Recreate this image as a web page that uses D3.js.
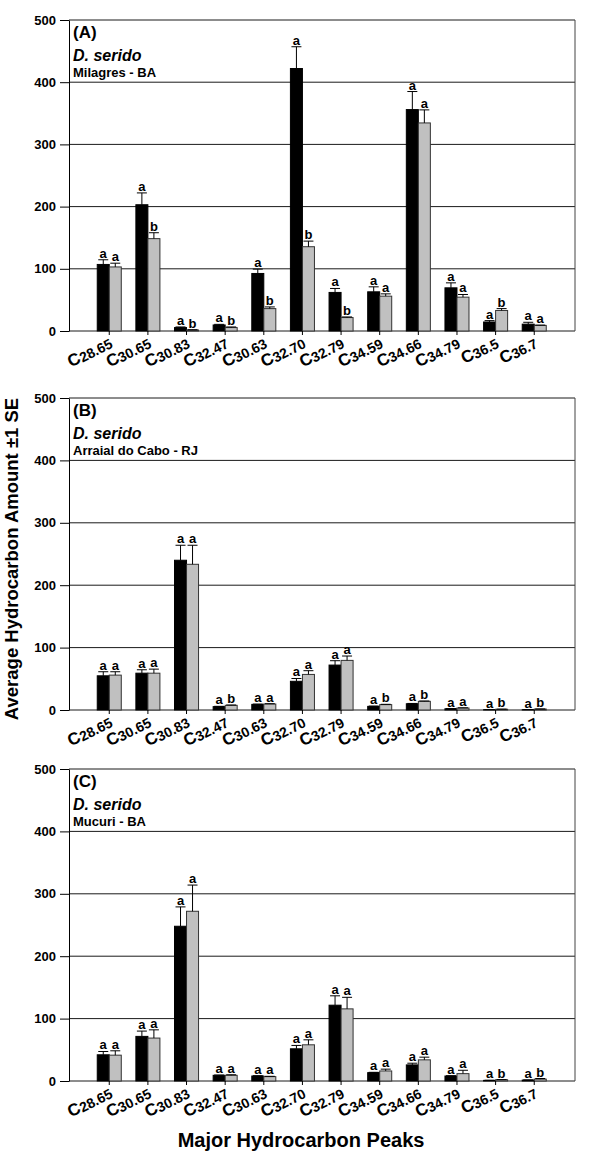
<!DOCTYPE html>
<html>
<head>
<meta charset="utf-8">
<script src="https://cdn.jsdelivr.net/npm/d3@7"></script>
<style>
  body { margin: 0; background: #fff; }
  svg { font-family: "Liberation Sans", Arial, sans-serif; font-weight: bold; }
</style>
</head>
<body>
<svg id="chart" width="600" height="1153"></svg>
<script>
// peaks on the x axis
const peaks = ["28.65", "30.65", "30.83", "32.47", "30.63", "32.70", "32.79", "34.59", "34.66", "34.79", "36.5", "36.7"];
const yTicks = [0, 100, 200, 300, 400, 500];

// (A) Milagres - BA
const aBlack = [107, 203, 5.5, 9.7, 92.5, 422, 62, 63, 356, 69.4, 14.5, 11];
const aBlackSe = [7.5, 19, 1, 1, 7, 35, 6.4, 8, 29, 8, 2.2, 3];
const aGray = [103, 148.5, 1.6, 5.5, 36, 135.5, 21.6, 56, 334.5, 54.4, 33, 9];
const aGraySe = [6, 9.5, 0.5, 1, 2.7, 9, 1, 3.7, 21, 4.3, 3, 0.5];
const aLetters = ["aa", "ab", "ab", "ab", "ab", "ab", "ab", "aa", "aa", "aa", "ab", "aa"];

// (B) Arraial do Cabo - RJ
const bBlack = [54.8, 59, 240, 5.4, 9, 46, 72, 5.8, 10, 2, 0.5, 0.5];
const bBlackSe = [6.5, 5.5, 24, 0.5, 0.5, 4.5, 7, 0.5, 0.5, 0.3, 0.2, 0.2];
const bGray = [55.9, 59, 233.5, 7.5, 9.6, 57, 79.5, 8.6, 13.9, 3.2, 1.2, 1.5];
const bGraySe = [5.4, 6.5, 30.5, 0.5, 0.5, 6, 7, 0.5, 0.5, 0.3, 0.2, 0.2];
const bLetters = ["aa", "aa", "aa", "ab", "aa", "aa", "aa", "ab", "ab", "aa", "ab", "ab"];

// (C) Mucuri - BA
const cBlack = [42, 71.5, 248, 9.1, 8, 51.6, 121.5, 13.4, 25.8, 8, 1, 1.5];
const cBlackSe = [5.3, 8.5, 31, 0.5, 0.5, 5.4, 15, 0.5, 2.7, 0.5, 0.2, 0.3];
const cGray = [41.4, 68.8, 272, 9.1, 7, 58, 115.6, 16.1, 33.9, 11.8, 2, 3];
const cGraySe = [7, 13.2, 42, 0.9, 0.5, 8, 18.5, 2.9, 4.3, 5.4, 0.3, 1];
const cLetters = ["aa", "aa", "aa", "aa", "aa", "aa", "aa", "aa", "aa", "aa", "ab", "ab"];

const panels = [
    { tag: "(A)", site: "Milagres - BA", top: 20, bottom: 331, black: aBlack, blackSe: aBlackSe, gray: aGray, graySe: aGraySe, letters: aLetters },
    { tag: "(B)", site: "Arraial do Cabo - RJ", top: 398, bottom: 710, black: bBlack, blackSe: bBlackSe, gray: bGray, graySe: bGraySe, letters: bLetters },
    { tag: "(C)", site: "Mucuri - BA", top: 769, bottom: 1081, black: cBlack, blackSe: cBlackSe, gray: cGray, graySe: cGraySe, letters: cLetters }
];

const size = { left: 69, right: 575 };
const svg = d3.select("#chart");

const x = d3.scaleBand()
    .domain(peaks)
    .range([size.left - 0.5, size.right])
    .paddingInner(0.378)
    .paddingOuter(0.744);
const xSub = d3.scaleBand()
    .domain(["black", "gray"])
    .range([0, x.bandwidth()]);

function drawPanel(p) {
    const g = svg.append("g");
    const y = d3.scaleLinear().domain([0, 500]).range([p.bottom, p.top]);

    // grid lines incl. top border
    g.selectAll("line.grid")
        .data(yTicks)
        .join("line")
        .attr("class", "grid")
        .attr("x1", size.left)
        .attr("x2", size.right)
        .attr("y1", d => y(d))
        .attr("y2", d => y(d))
        .attr("stroke", "#1a1a1a")
        .attr("stroke-width", 1);

    // right border
    g.append("line")
        .attr("x1", size.right).attr("x2", size.right)
        .attr("y1", y(500)).attr("y2", y(0))
        .attr("stroke", "#444");

    const rows = peaks.map((k, i) => ({
        key: k,
        bars: [
            { s: "black", v: p.black[i], se: p.blackSe[i], l: p.letters[i][0] },
            { s: "gray", v: p.gray[i], se: p.graySe[i], l: p.letters[i][1] }
        ]
    }));

    const grp = g.selectAll("g.grp")
        .data(rows)
        .join("g")
        .attr("class", "grp")
        .attr("transform", d => `translate(${x(d.key)},0)`);

    grp.selectAll("rect")
        .data(d => d.bars)
        .join("rect")
        .attr("x", d => xSub(d.s))
        .attr("y", d => y(d.v))
        .attr("width", xSub.bandwidth())
        .attr("height", d => y(0) - y(d.v))
        .attr("fill", d => d.s === "black" ? "#000" : "#c0c0c0")
        .attr("stroke", d => d.s === "black" ? "#000" : "#333")
        .attr("stroke-width", 1);

    // error bars (+1 SE)
    const cx = d => xSub(d.s) + xSub.bandwidth() / 2;
    grp.selectAll("line.err")
        .data(d => d.bars)
        .join("line")
        .attr("class", "err")
        .attr("x1", cx).attr("x2", cx)
        .attr("y1", d => y(d.v))
        .attr("y2", d => y(d.v + d.se))
        .attr("stroke", "#000");
    grp.selectAll("line.cap")
        .data(d => d.bars)
        .join("line")
        .attr("class", "cap")
        .attr("x1", d => cx(d) - 5).attr("x2", d => cx(d) + 5)
        .attr("y1", d => y(d.v + d.se))
        .attr("y2", d => y(d.v + d.se))
        .attr("stroke", "#000");

    grp.selectAll("text.sig")
        .data(d => d.bars)
        .join("text")
        .attr("class", "sig")
        .attr("x", cx)
        .attr("y", d => y(d.v + d.se) - 2)
        .attr("text-anchor", "middle")
        .attr("font-size", 13)
        .text(d => d.l);

    // left axis
    g.append("g")
        .attr("transform", `translate(${size.left},0)`)
        .call(d3.axisLeft(y).tickValues(yTicks).tickSize(9).tickSizeOuter(0).tickPadding(4))
        .call(a => a.select(".domain").attr("stroke", "#000"))
        .call(a => a.selectAll("text").attr("font-size", 13).attr("font-family", null).attr("fill", "#000"));

    // bottom axis
    const xa = g.append("g")
        .attr("transform", `translate(0,${p.bottom})`)
        .call(d3.axisBottom(x).tickSize(4).tickSizeOuter(0).tickFormat(""));
    xa.select(".domain").remove();
    xa.selectAll(".tick").each(function(d) {
        const t = d3.select(this).append("text")
            .attr("text-anchor", "end")
            .attr("fill", "#000")
            .attr("font-family", null)
            .attr("transform", "translate(4,15) rotate(-27)");
        t.append("tspan").attr("font-size", 17).text("C");
        t.append("tspan").attr("font-size", 14).attr("dy", 1).text(d);
    });

    // panel captions
    g.append("text").attr("x", size.left + 4).attr("y", p.top + 18)
        .attr("font-size", 17).text(p.tag);
    g.append("text").attr("x", size.left + 4).attr("y", p.top + 41)
        .attr("font-size", 16).attr("font-style", "italic").text("D. serido");
    g.append("text").attr("x", size.left + 4).attr("y", p.top + 57)
        .attr("font-size", 13).text(p.site);
}

panels.forEach(drawPanel);

// axis titles
svg.append("text")
    .attr("transform", "translate(18,559) rotate(-90)")
    .attr("text-anchor", "middle")
    .attr("font-size", 18.5)
    .text("Average Hydrocarbon Amount \u00b11 SE");

svg.append("text")
    .attr("x", 301)
    .attr("y", 1147)
    .attr("text-anchor", "middle")
    .attr("font-size", 20)
    .text("Major Hydrocarbon Peaks");
</script>
</body>
</html>
